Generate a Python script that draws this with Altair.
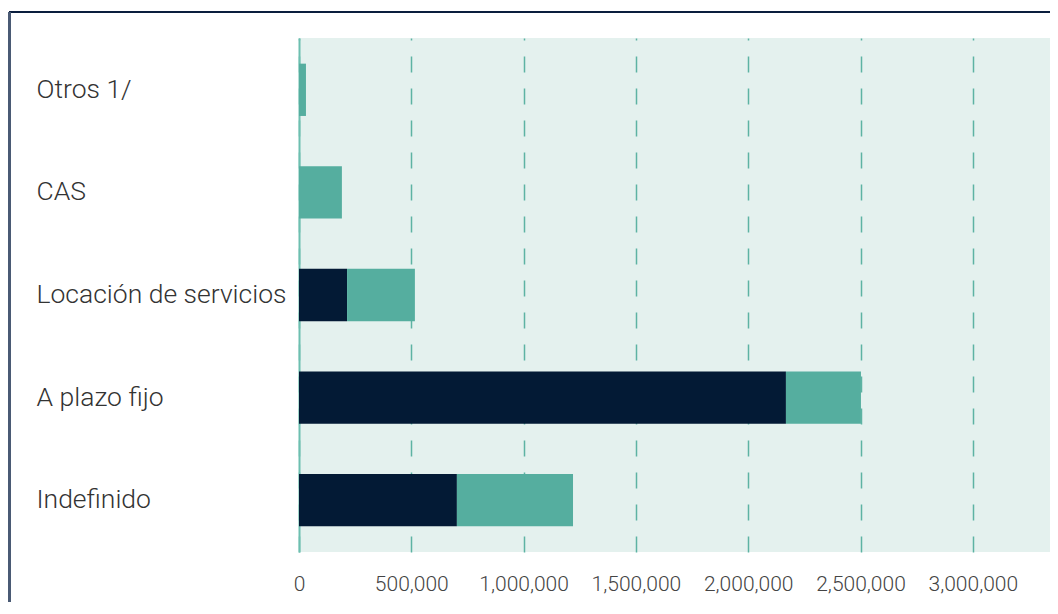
import altair as alt
import pandas as pd

categories = ["Otros 1/", "CAS", "Locación de servicios", "A plazo fijo", "Indefinido"]
serie_a = [0, 0, 214000, 2168000, 703000]      # dark segment
serie_b = [31000, 191000, 302000, 334000, 517000]  # teal segment
series_names = ["Serie A", "Serie B"]
tick_values = [0, 500000, 1000000, 1500000, 2000000, 2500000, 3000000]

rows = []
for c, a, b in zip(categories, serie_a, serie_b):
    rows.append({"cat": c, "serie": series_names[0], "valor": a, "ord": 0})
    rows.append({"cat": c, "serie": series_names[1], "valor": b, "ord": 1})
df = pd.DataFrame(rows)

FONT = "Roboto"

bars = alt.Chart(df).mark_bar().encode(
    y=alt.Y("cat:N", sort=categories, title=None,
            scale=alt.Scale(paddingInner=0.49, paddingOuter=0.25),
            axis=alt.Axis(labelAlign="left", labelPadding=263, ticks=False,
                          labelFont=FONT, labelFontSize=26.5, labelFontWeight=300,
                          labelColor="#333333", domainColor="#6dbfb0", domainWidth=2,
                          grid=False, labelLimit=400)),
    x=alt.X("valor:Q", stack="zero", title=None,
            scale=alt.Scale(domain=[0, 3343700], nice=False),
            axis=alt.Axis(values=tick_values, format=",.0f", domain=False, ticks=False,
                          labelFont=FONT, labelFontSize=21, labelFontWeight=300,
                          labelColor="#444444", labelPadding=21, grid=True,
                          gridColor="#5db3a3", gridDash=[16, 16], gridWidth=1.5,
                          labelFlush=False)),
    color=alt.Color("serie:N", scale=alt.Scale(domain=series_names, range=["#031a35", "#55ae9f"]),
                    legend=None),
    order=alt.Order("ord:Q"),
)

frame_top = alt.Chart(df).mark_rule(color="#0b1f3f", strokeWidth=1.5).encode(
    x=alt.value(-290), x2=alt.value(800), y=alt.value(-26))
frame_left = alt.Chart(df).mark_rule(color="#4a5a75", strokeWidth=2).encode(
    x=alt.value(-289.5), y=alt.value(-26), y2=alt.value(700))

chart = alt.layer(bars, frame_top, frame_left).properties(
    width=751, height=514,
    autosize=alt.AutoSizeParams(type="none"),
    padding={"left": 291, "top": 30, "right": 0, "bottom": 50},
    background="white",
).configure_view(fill="#e4f1ee", stroke=None)

chart.save("out.html", embed_options={"renderer": "svg", "actions": False})
